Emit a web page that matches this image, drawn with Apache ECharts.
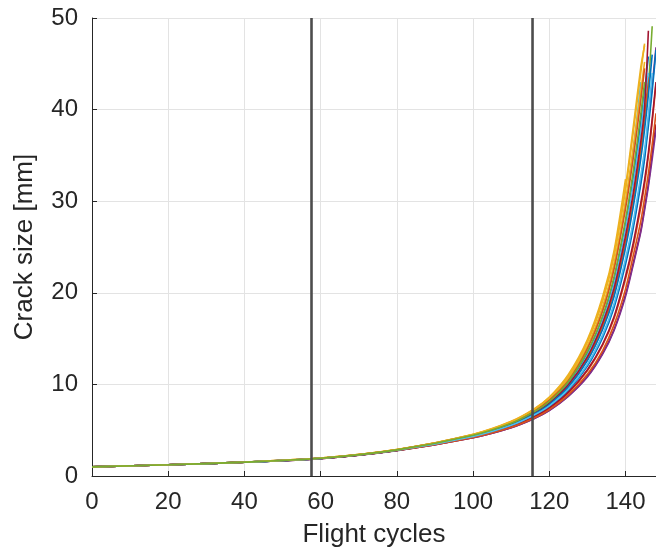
<!DOCTYPE html>
<html>
<head>
<meta charset="utf-8">
<script src="https://cdn.jsdelivr.net/npm/echarts@6/dist/echarts.min.js"></script>
<style>
  html, body { margin: 0; padding: 0; background: #ffffff; }
  #chart { width: 656px; height: 560px; }
</style>
</head>
<body>
<div id="chart"></div>
<script>
// Flight cycles at which each crack size sample is read
const cycles = [0, 20, 40, 60, 80, 100, 110, 116, 120, 125, 130, 134, 137, 140, 142, 144, 145, 146, 147, 148];

// Crack size [mm] per simulated path
const c01 = [1.00,1.22,1.51,1.93,2.85,4.43,5.72,6.97,8.08,10.1,13.4,17.2,21.3,27.4,32.4,38.6,42.0,45.8];
const c02 = [1.00,1.22,1.50,1.90,2.78,4.19,5.28,6.28,7.18,8.75,10.9,13.4,16.0,19.8,23.2,26.8,29.3,31.9,35.2,38.4];
const c03 = [1.00,1.22,1.52,1.95,2.89,4.56,5.97,7.32,8.62,11.1,14.9,19.6,24.6,32.4];
const c04 = [1.00,1.22,1.50,1.92,2.81,4.31,5.51,6.63,7.62,9.42,12.1,15.3,18.6,23.4,27.3,32.2,35.0,38.8,42.6,46.8];
const c05 = [1.00,1.22,1.51,1.92,2.82,4.37,5.62,6.82,7.88,9.80,12.8,16.3,19.9,25.3,29.8,35.4,38.6,42.5,49.1];
const c06 = [1.00,1.22,1.51,1.94,2.86,4.49,5.84,7.12,8.33,10.6,14.1,18.3,23.0,29.8,35.4,43.0];
const c07 = [1.00,1.22,1.50,1.91,2.79,4.24,5.39,6.44,7.38,9.08,11.5,14.3,17.2,21.5,25.0,29.3,31.8,34.9,38.6,42.8];
const c08 = [1.00,1.22,1.52,1.95,2.88,4.54,5.93,7.28,8.57,10.9,14.7,19.3,24.3,31.6,38.0,44.6,47.0];
const c09 = [1.00,1.22,1.51,1.92,2.83,4.38,5.63,6.84,7.90,9.82,12.8,16.4,20.0,25.6,30.2,35.8,39.0,43.6];
const c10 = [1.00,1.22,1.51,1.94,2.87,4.50,5.86,7.16,8.38,10.6,14.2,18.5,23.2,30.0,35.8,42.0,45.2];
const c11 = [1.00,1.22,1.50,1.90,2.77,4.18,5.27,6.25,7.14,8.70,10.8,13.3,15.9,19.6,23.0,26.6,29.0,31.6,34.6,37.8];
const c12 = [1.00,1.22,1.50,1.92,2.80,4.29,5.48,6.60,7.57,9.36,12.0,15.1,18.4,23.1,27.0,31.8,34.6,38.2,42.0,46.5];
const c13 = [1.00,1.22,1.51,1.93,2.84,4.41,5.68,6.92,8.02,10.0,13.2,17.0,21.0,27.0,31.8,37.6,41.2,44.0];
const c14 = [1.00,1.22,1.51,1.93,2.83,4.40,5.66,6.88,7.96,9.95,13.0,16.7,20.5,26.2,30.8,36.5,40.2,48.6];
const c15 = [1.00,1.22,1.50,1.91,2.80,4.26,5.42,6.48,7.43,9.15,11.6,14.4,17.4,21.8,25.4,29.8,32.3,35.3,39.0,43.0];
const c16 = [1.00,1.22,1.51,1.94,2.86,4.47,5.80,7.08,8.27,10.4,13.9,18.0,22.6,29.2,34.6,41.0,44.5];
const c17 = [1.00,1.22,1.51,1.93,2.85,4.45,5.75,7.02,8.15,10.3,13.6,17.5,21.8,28.0,33.2,39.5,43.0];
const c18 = [1.00,1.22,1.51,1.92,2.82,4.35,5.58,6.77,7.82,9.70,12.6,16.0,19.6,24.9,29.3,34.6,37.8,41.6,46.0];
const c19 = [1.00,1.22,1.50,1.91,2.78,4.21,5.32,6.33,7.25,8.86,11.1,13.7,16.5,20.4,24.0,27.8,30.3,33.0,36.2,39.6];
const c20 = [1.00,1.22,1.50,1.92,2.81,4.32,5.53,6.66,7.66,9.48,12.2,15.4,18.8,23.7,27.7,32.8,35.6,39.5,44.0];
const c21 = [1.00,1.22,1.52,1.95,2.88,4.53,5.92,7.26,8.54,10.8,14.6,19.1,24.0,31.2,37.4,44.0,47.2];

// Draw order (last drawn sits on top)
const paths = [c01,c02,c03,c04,c05,c06,c07,c08,c09,c10,c11,c12,c13,c14,c15,c16,c18,c19,c20,c21,c17];

// Vertical reference lines (flight cycles)
const markers = [57.6, 115.6];

// Axis ticks
const xTicks = [0, 20, 40, 60, 80, 100, 120, 140];
const yTicks = [0, 10, 20, 30, 40, 50];

// Styling
const palette = ['#0072BD','#D95319','#EDB120','#7E2F8E','#77AC30','#4DBEEE','#A2142F'];
const colorIdx = [0,6,2,3,4,5,1,2,1,2,3,0,5,6,6,1,0,1,5,2,4];
const textColor = '#262626';
const font = 'Liberation Sans, Arial, Helvetica, sans-serif';

const series = paths.map((vals, i) => ({
  type: 'line',
  data: vals.map((v, k) => [cycles[k], v]),
  symbol: 'none',
  smooth: 0.25,
  lineStyle: { width: 1.6, color: palette[colorIdx[i]] },
  itemStyle: { color: palette[colorIdx[i]] },
  silent: true,
  z: 2
}));

markers.forEach(m => {
  series.push({
    type: 'line',
    data: [[m, yTicks[0]], [m, yTicks[yTicks.length - 1]]],
    symbol: 'none',
    lineStyle: { width: 2.6, color: '#4d4d4d' },
    silent: true,
    z: 5
  });
});

const chart = echarts.init(document.getElementById('chart'), null, { renderer: 'canvas' });
chart.setOption({
  animation: false,
  backgroundColor: '#ffffff',
  grid: { left: 92, top: 18, bottom: 84, right: 0, containLabel: false, outerBoundsMode: 'none' },
  xAxis: {
    type: 'value',
    min: 0, max: 148, interval: 20,
    name: 'Flight cycles',
    nameLocation: 'middle',
    nameGap: 46,
    nameTextStyle: { fontSize: 26, color: textColor, fontFamily: font },
    axisLine: { show: true, onZero: false, lineStyle: { color: textColor, width: 1 } },
    axisTick: { show: true, inside: true, length: 5, lineStyle: { color: textColor } },
    axisLabel: {
      fontSize: 24, color: textColor, fontFamily: font, margin: 14,
      formatter: v => (xTicks.indexOf(v) >= 0 ? String(v) : '')
    },
    splitLine: { show: true, lineStyle: { color: '#e3e3e3', width: 1 } }
  },
  yAxis: {
    type: 'value',
    min: 0, max: 50, interval: 10,
    name: 'Crack size [mm]',
    nameLocation: 'middle',
    nameGap: 54,
    nameTextStyle: { fontSize: 26, color: textColor, fontFamily: font },
    axisLine: { show: true, lineStyle: { color: textColor, width: 1 } },
    axisTick: { show: true, inside: true, length: 5, lineStyle: { color: textColor } },
    axisLabel: {
      fontSize: 24, color: textColor, fontFamily: font, margin: 14,
      formatter: v => (yTicks.indexOf(v) >= 0 ? String(v) : '')
    },
    splitLine: { show: true, lineStyle: { color: '#e3e3e3', width: 1 } }
  },
  series: series
});
</script>
</body>
</html>
